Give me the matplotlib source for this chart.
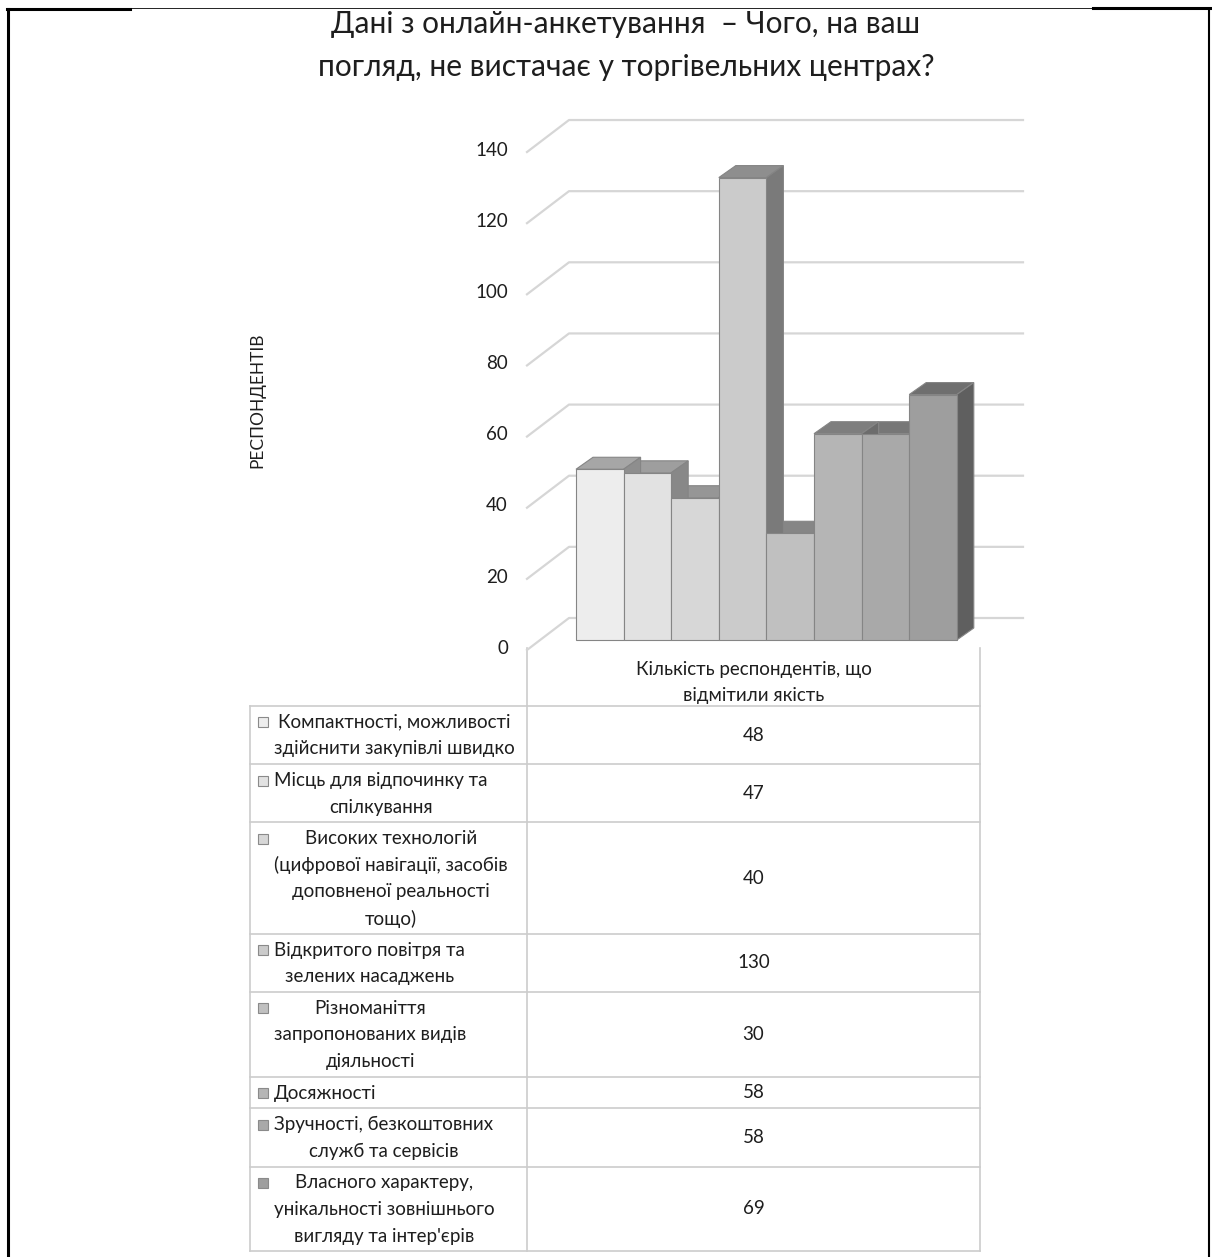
"""
  Survey chart: 3D-style column chart with a data table underneath.
"""

import numpy as np
import matplotlib.pyplot as plt
from matplotlib.patches import Polygon, Rectangle

plt.rcParams['font.family'] = ['Lato', 'DejaVu Sans']

TITLE = "Дані з онлайн-анкетування  – Чого, на ваш\nпогляд, не вистачає у торгівельних центрах?"
AXIS_TITLE = "РЕСПОНДЕНТІВ"
SERIES_NAME = "Кількість респондентів, що\nвідмітили якість"

categories = [
    "Компактності, можливості\nздійснити закупівлі швидко",
    "Місць для відпочинку та\nспілкування",
    "Високих технологій\n(цифрової навігації, засобів\nдоповненої реальності\nтощо)",
    "Відкритого повітря та\nзелених насаджень",
    "Різноманіття\nзапропонованих видів\nдіяльності",
    "Досяжності",
    "Зручності, безкоштовних\nслужб та сервісів",
    "Власного характеру,\nунікальності зовнішнього\nвигляду та інтер'єрів",
]
counts = [48, 47, 40, 130, 30, 58, 58, 69]
y_ticks = [0, 20, 40, 60, 80, 100, 120, 140]

W, H = 1212, 1257
TXT = '#1e1e1e'
fig = plt.figure(figsize=(W / 100, H / 100), dpi=100)

# full-page canvas in pixel units (frame, title, table)
canvas = fig.add_axes([0, 0, 1, 1])
canvas.set_xlim(0, W)
canvas.set_ylim(H, 0)
canvas.axis('off')

# black page frame
canvas.plot([8, 8], [9, H], c='black', lw=2.2)
canvas.plot([1209, 1209], [9, H], c='black', lw=1.5)
canvas.plot([7, 130], [9, 9], c='black', lw=2.2)
canvas.plot([130, 1093], [8, 8], c='black', lw=0.6)
canvas.plot([1093, W], [8, 8], c='black', lw=2.2)

for k, line in enumerate(TITLE.split("\n")):
    canvas.text(626, 24 + k * 43, line, ha='center', va='center', fontsize=21.5,
                color=TXT)

canvas.text(257, 400, AXIS_TITLE, rotation=90, ha='center', va='center',
            fontsize=12.5, color=TXT)

# ---- 3D column chart ----
BAR_X0, BAR_W, ZERO_Y, UNIT = 576, 47.6, 640, 3.557   # pixel anchors
left_px, right_px, top_px, bot_px = 440, 1040, 90, 700
ax = fig.add_axes([left_px / W, 1 - bot_px / H, (right_px - left_px) / W,
                   (bot_px - top_px) / H])
ax.set_xlim((left_px - BAR_X0) / BAR_W, (right_px - BAR_X0) / BAR_W)
ax.set_ylim((ZERO_Y - bot_px) / UNIT, (ZERO_Y - top_px) / UNIT)
ax.axis('off')

# wall geometry in data units
front_x = (527 - BAR_X0) / BAR_W
front_off = (ZERO_Y - 650) / UNIT
back_x0 = (569 - BAR_X0) / BAR_W
back_x1 = (1023 - BAR_X0) / BAR_W
back_off = (ZERO_Y - 618) / UNIT
for v in y_ticks:
    ax.plot([front_x, back_x0, back_x1], [v + front_off, v + back_off, v + back_off],
            c='#d6d6d6', lw=1.6, zorder=0)
    ax.text(front_x - 19 / BAR_W, v + front_off + 0.5, str(v), ha='right',
            va='center', fontsize=13.5, color=TXT)

# bar depth
ddx = 17 / BAR_W
ddy = 12 / UNIT
n = len(counts)
shade = np.linspace(0.93, 0.62, n)
fronts = [(s, s, s) for s in shade]
tops = [(s * 0.7, s * 0.7, s * 0.7) for s in shade]
sides = [(s * 0.6, s * 0.6, s * 0.6) for s in shade]
edge = '#858585'

x = np.arange(n)
for i, v in zip(x, counts):
    ax.add_patch(Polygon([(i, v), (i + 1, v), (i + 1 + ddx, v + ddy), (i + ddx, v + ddy)],
                         closed=True, fc=tops[i], ec=edge, lw=0.8, zorder=2))
for i, v in zip(x, counts):
    ax.add_patch(Polygon([(i + 1, 0), (i + 1 + ddx, ddy), (i + 1 + ddx, v + ddy), (i + 1, v)],
                         closed=True, fc=sides[i], ec=edge, lw=0.8, zorder=3 + 2 * i))
    ax.bar(i, v, width=1, align='edge', color=fronts[i], edgecolor=edge, lw=0.8,
           zorder=4 + 2 * i)

# ---- data table ----
grid_c = '#cccccc'
col_l, col_m, col_r = 250, 527, 980
header_top, table_top = 648, 706
line_h, pad = 26.6, 5
FS = 13.5

for k, line in enumerate(SERIES_NAME.split("\n")):
    canvas.text((col_m + col_r) / 2, 669 + k * 27, line, ha='center', va='center',
                fontsize=FS, color=TXT)

row_tops = [table_top]
for lab in categories:
    row_tops.append(row_tops[-1] + lab.count("\n") * line_h + line_h + pad)

canvas.plot([col_m, col_m], [header_top, row_tops[-1]], c=grid_c, lw=1.2)
canvas.plot([col_r, col_r], [header_top, row_tops[-1]], c=grid_c, lw=1.2)
canvas.plot([col_l, col_l], [table_top, row_tops[-1]], c=grid_c, lw=1.2)
for yy in row_tops:
    canvas.plot([col_l, col_r], [yy, yy], c=grid_c, lw=1.2)

renderer = fig.canvas.get_renderer()
text_x0 = 274
for i, (lab, v) in enumerate(zip(categories, counts)):
    top, bot = row_tops[i], row_tops[i + 1]
    y0 = top + 3 + line_h / 2
    canvas.add_patch(Rectangle((258, y0 - 5), 10, 10, fc=fronts[i], ec='#8a8a8a', lw=0.8))
    texts = [canvas.text(text_x0, y0 + k * line_h, line, ha='left', va='center',
                         fontsize=FS, color=TXT)
             for k, line in enumerate(lab.split("\n"))]
    widths = [t.get_window_extent(renderer).width for t in texts]
    block = min(max(widths), col_m - text_x0)
    for t, w in zip(texts, widths):
        t.set_x(text_x0 + (block - w) / 2)
    canvas.text((col_m + col_r) / 2, (top + bot) / 2, str(v), ha='center',
                va='center', fontsize=FS, color=TXT)

fig.savefig('out.png', dpi=100)
